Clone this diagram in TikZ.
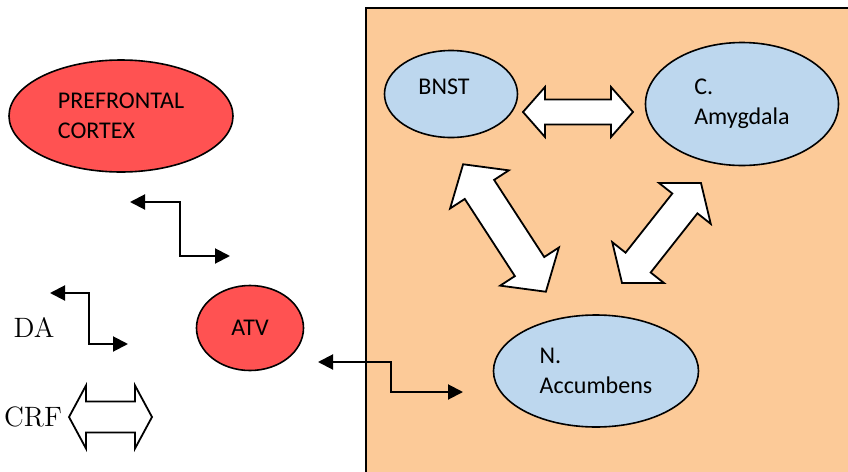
\documentclass[tikz,border=0pt]{standalone}
\usepackage{fontspec}
\setsansfont{Carlito}
\usepackage{tikz}
\tikzset{>=latex}
\usetikzlibrary{shapes.geometric, arrows.meta, calc}
\definecolor{cortexred}{RGB}{255,82,82}
\definecolor{nucleusblue}{RGB}{189,215,238}
\definecolor{boxorange}{RGB}{252,202,152}
\tikzset{
  region/.style={ellipse, draw, line width=0.8pt, inner sep=0pt, align=left,
    font=\sffamily\fontsize{12}{15}\selectfont},
  cortex/.style={region, fill=cortexred},
  nucleus/.style={region, fill=nucleusblue},
  signal/.style={font=\fontsize{14}{16}\selectfont},
  elbow/.style={line width=1pt,
    {Triangle[length=7.5pt,width=7.5pt]}-{Triangle[length=7.5pt,width=7.5pt]}},
  blockarrow/.style={draw, fill=white, line width=0.9pt, line join=miter},
  pics/dblarrow/.style n args={4}{code={
    \draw[blockarrow] (-#1,0) -- (-#1+#2,#4) -- (-#1+#2,#3) -- (#1-#2,#3)
      -- (#1-#2,#4) -- (#1,0) -- (#1-#2,-#4) -- (#1-#2,-#3)
      -- (-#1+#2,-#3) -- (-#1+#2,-#4) -- cycle;
  }}
}

\begin{document}
\begin{tikzpicture}[x=0.5pt, y=-0.5pt]
   \useasboundingbox (0,0) rectangle (848,472);
   % orange area on the right
   \fill[boxorange] (366,8) rectangle (848,472);
   \draw[line width=0.8pt] (366,472) -- (366,8) -- (848,8);

   % regions
   \node[cortex, minimum width=112pt, minimum height=56pt] (pfc) at (121,116) {PREFRONTAL\\CORTEX};
   \node[cortex, minimum width=53.5pt, minimum height=42.5pt] (atv) at (250,328) {ATV};
   \node[nucleus, minimum width=66.5pt, minimum height=43.5pt, text depth=7pt] (bnst) at (451,94) {BNST\hspace{7pt}};
   \node[nucleus, minimum width=96.5pt, minimum height=61.5pt] (amyg) at (742,104) {C.\\Amygdala};
   \node[nucleus, minimum width=102.5pt, minimum height=56pt] (nacc) at (596,371) {N.\\Accumbens};

   % signals
   \node[signal] (da) at (34,327) {DA};
   \node[signal] (crf) at (33,417) {CRF};

   % elbow arrows
   \coordinate (pfcend) at (130,202);
   \coordinate (atvtop) at (230,256);
   \coordinate (daend) at (50,293);
   \coordinate (dastart) at (128,344);
   \coordinate (atvend) at (318,362);
   \coordinate (naccend) at (463,392);
   \draw[elbow] (pfcend) -| ($(pfcend)!.5!(atvtop)$) |- (atvtop);
   \draw[elbow] (daend) -| ($(daend)!.5!(dastart)$) |- (dastart);
   \draw[elbow] (atvend) -| ($(atvend)!.5!(naccend)$) |- (naccend);

   % block arrows
   \pic at (110.5,417) {dblarrow={41.5}{17}{15.5}{31.5}};
   \pic at (578,112) {dblarrow={55}{22}{12.5}{25}};
   \pic[rotate=123] at (504.5,228) {dblarrow={76}{30}{17.5}{35}};
   \pic[rotate=51.7] at (661.5,233) {dblarrow={63.7}{26}{16}{33}};
\end{tikzpicture}
\end{document}
